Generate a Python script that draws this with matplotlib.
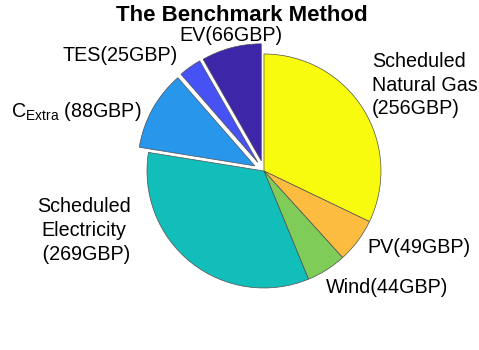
import matplotlib
matplotlib.use('Agg')
import matplotlib.pyplot as plt

plt.rcParams['font.family'] = ['Liberation Sans', 'DejaVu Sans']

labels = ['Scheduled\nNatural Gas\n(256GBP)', 'PV(49GBP)', 'Wind(44GBP)',
          'Scheduled\nElectricity\n (269GBP)', r'C$\mathregular{_{Extra}}$ (88GBP)',
          'TES(25GBP)', 'EV(66GBP)']
costs = [256, 49, 44, 269, 88, 25, 66]
explode = [0, 0, 0, 0, 0.09, 0.09, 0.09]
colors = ['#F9FB0E', '#FCBC3F', '#80CC59', '#12BEB9', '#2796EB', '#4752F4', '#3E26A8']

# label anchors (data units, pie radius = 1) and alignment
label_pos = [(0.925, 0.735, 'left', 'center', 'left'),
             (0.88, -0.65, 'left', 'center', 'left'),
             (0.53, -1.0, 'left', 'center', 'left'),
             (-1.54, -0.51, 'center', 'center', 'center'),
             (-1.05, 0.462, 'right', 'baseline', 'right'),
             (-0.735, 0.99, 'right', 'center', 'right'),
             (-0.282, 1.16, 'center', 'center', 'center')]

fig = plt.figure(figsize=(4.79, 3.5), dpi=100)
fig.patch.set_facecolor('white')
ax = fig.add_axes([0.2458, 0.0936, 0.6106, 0.8357])

ax.pie(costs, explode=explode, colors=colors, startangle=90, counterclock=False,
       wedgeprops=dict(edgecolor='#505050', linewidth=0.5))

for text, (x, y, ha, va, ma) in zip(labels, label_pos):
    ax.text(x, y, text, ha=ha, va=va, multialignment=ma, fontsize=14.2,
            linespacing=1.32, clip_on=False)

ax.set_xlim(-1.25, 1.25)
ax.set_ylim(-1.25, 1.25)
ax.set_aspect('equal')
ax.axis('off')

fig.text(0.505, 0.957, 'The Benchmark Method', ha='center', va='center',
         fontsize=16, fontweight='bold')

plt.savefig('out.png', dpi=100)
plt.close()
